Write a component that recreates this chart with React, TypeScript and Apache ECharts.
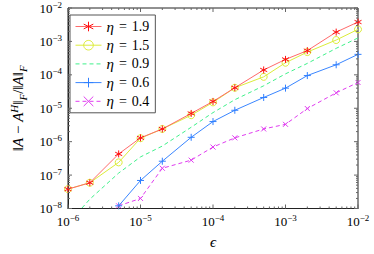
import React, { useEffect, useRef } from "react";
import * as echarts from "echarts";

const epsilon = [1e-6, 2e-6, 5e-6, 1e-5, 2e-5, 5e-5, 1e-4, 2e-4, 5e-4, 1e-3, 2e-3, 5e-3, 1e-2];
const eta19 = [3.8e-8, 5.9e-8, 4.3e-7, 1.3e-6, 2.4e-6, 7.0e-6, 1.6e-5, 4.1e-5, 1.4e-4, 2.9e-4, 5.3e-4, 1.9e-3, 3.8e-3];
const eta15 = [3.8e-8, 5.9e-8, 2.4e-7, 1.27e-6, 2.4e-6, 6.2e-6, 1.5e-5, 4.1e-5, 8.7e-5, 2.3e-4, 4.8e-4, 1.1e-3, 2.3e-3];
const eta09 = [3.5e-9, 1.9e-8, 1.15e-7, 3.5e-7, 7.4e-7, 2.7e-6, 7.4e-6, 1.8e-5, 4.7e-5, 1.07e-4, 2.2e-4, 6.2e-4, 1.27e-3];
const eta06 = [null, null, 1.2e-8, 6.9e-8, 2.6e-7, 1.35e-6, 4.0e-6, 8.7e-6, 2.1e-5, 4.0e-5, 9.5e-5, 2.0e-4, 4.1e-4];
const eta04 = [null, null, 1.2e-8, 2.0e-8, 1.6e-7, 2.8e-7, 6.9e-7, 1.3e-6, 2.4e-6, 3.3e-6, 9.8e-6, 2.9e-5, 5.9e-5];
const etaNames = ["1.9", "1.5", "0.9", "0.6", "0.4"];

const X_MIN = 1e-6, X_MAX = 1e-2, Y_MIN = 1e-8, Y_MAX = 1e-2;
const SERIF = "Liberation Serif";

const STAR = "path://M0,-10L0,10M-8.66,-5L8.66,5M-8.66,5L8.66,-5";
const PLUS = "path://M0,-10L0,10M-10,0L10,0";
const CROSS = "path://M-10,-10L10,10M-10,10L10,-10";

function tickValues(eMin: number, eMax: number) {
  const out: number[][] = [];
  for (let e = eMin; e < eMax; e++) {
    for (let m = 1; m <= 9; m++) out.push([m * Math.pow(10, e), m === 1 ? 4 : 2]);
  }
  out.push([Math.pow(10, eMax), 4]);
  return out;
}

export default function App() {
  const ref = useRef<HTMLDivElement>(null);
  useEffect(() => {
    if (!ref.current) return;
    const chart = echarts.init(ref.current, null, { renderer: "svg" });
    const pair = (ys: (number | null)[]) => epsilon.map((x, i) => [x, ys[i]]).filter((p) => p[1] !== null);
    const tickStyle = { stroke: "#666", lineWidth: 1 };
    const labelFmt = (v: number) => `{b|10}{s|−${-Math.round(Math.log10(v))}}`;
    const labelRich = {
      b: { fontFamily: SERIF, fontSize: 13, lineHeight: 16, color: "#000" },
      s: { fontFamily: SERIF, fontSize: 9, lineHeight: 10, verticalAlign: "top", color: "#000" },
    };
    const xt = tickValues(-6, -2).map((t) => [t[0], Y_MIN, t[1]]);
    const yt = tickValues(-8, -2).map((t) => [X_MIN, t[0], t[1]]);
    const mk = (name: string, data: any, color: string, lineColor: string, symbol: string, size: number, dashed: boolean, z: number) => ({
      type: "line",
      name,
      data,
      z,
      symbol,
      symbolSize: size,
      showAllSymbol: true,
      lineStyle: { color: lineColor, width: 1, type: dashed ? [4, 3] : "solid" },
      itemStyle: { color: symbol === "circle" || !size ? "rgba(0,0,0,0)" : color, borderColor: size ? color : "rgba(0,0,0,0)", borderWidth: 1 },
      emphasis: { disabled: true },
      animation: false,
    });
    chart.setOption({
      animation: false,
      textStyle: { fontFamily: SERIF },
      grid: { left: 61, right: 16, top: 7, bottom: 37, show: true, borderColor: "#222", borderWidth: 1 },
      legend: {
        left: 70,
        top: 15,
        orient: "vertical",
        padding: [4, 6, 4, 5],
        itemGap: 3.7,
        itemWidth: 26,
        itemHeight: 12,
        borderColor: "#555",
        borderWidth: 1,
        backgroundColor: "#fff",
        data: etaNames,
        itemStyle: { borderWidth: 1 },
        lineStyle: { width: 1 },
        formatter: (n: string) => `{i|η}{e|=}{n|${n}}`,
        textStyle: {
          fontFamily: SERIF,
          rich: {
            i: { fontFamily: SERIF, fontSize: 15, fontStyle: "italic", lineHeight: 14, color: "#000" },
            e: { fontFamily: SERIF, fontSize: 14, lineHeight: 14, padding: [0, 5, 0, 5], color: "#000" },
            n: { fontFamily: SERIF, fontSize: 14, lineHeight: 14, color: "#000" },
          },
        },
      },
      xAxis: {
        type: "log",
        logBase: 10,
        min: X_MIN,
        max: X_MAX,
        name: "ϵ",
        nameLocation: "middle",
        nameGap: 26,
        nameTextStyle: { fontFamily: SERIF, fontSize: 15, fontStyle: "italic", color: "#000", lineHeight: 14 },
        axisLine: { lineStyle: { color: "#222", width: 1 } },
        axisTick: { show: false },
        splitLine: { show: false },
        axisLabel: { margin: 5, fontFamily: SERIF, formatter: labelFmt, rich: labelRich },
      },
      yAxis: {
        type: "log",
        logBase: 10,
        min: Y_MIN,
        max: Y_MAX,
        name: "{n|‖}{i|A}{n| − }{i|A}{sup|H}{n|‖}{sub|F}{n|/‖}{i|A}{n|‖}{sub|F}",
        nameLocation: "middle",
        nameRotate: 90,
        nameGap: 40,
        nameTextStyle: {
          fontFamily: SERIF,
          rich: {
            n: { fontFamily: SERIF, fontSize: 15, lineHeight: 20, color: "#000" },
            i: { fontFamily: SERIF, fontSize: 15, fontStyle: "italic", lineHeight: 20, color: "#000" },
            sup: { fontFamily: SERIF, fontSize: 11, fontStyle: "italic", lineHeight: 12, verticalAlign: "top", color: "#000" },
            sub: { fontFamily: SERIF, fontSize: 11, fontStyle: "italic", lineHeight: 12, verticalAlign: "bottom", color: "#000" },
          },
        },
        axisLine: { lineStyle: { color: "#222", width: 1 } },
        axisTick: { show: false },
        splitLine: { show: false },
        axisLabel: { margin: 6, fontFamily: SERIF, formatter: labelFmt, rich: labelRich },
      },
      series: [
        mk("1.9", pair(eta19), "#ff1010", "#ff6a6a", STAR, 7, false, 7),
        mk("1.5", pair(eta15), "#dcec3a", "#dcec3a", "circle", 7, false, 6),
        mk("0.9", pair(eta09), "#3ff08a", "#3ff08a", "circle", 0, true, 5),
        mk("0.6", pair(eta06), "#2f7fff", "#3a86ff", PLUS, 7, false, 4),
        mk("0.4", pair(eta04), "#e03cf0", "#e03cf0", CROSS, 5, true, 3),
        {
          type: "custom",
          silent: true,
          z: 8,
          data: xt,
          encode: { x: 0, y: 1 },
          renderItem: (_p: any, api: any) => {
            const v = api.value(0), len = api.value(2);
            const b = api.coord([v, Y_MIN]);
            const t = api.coord([v, Y_MAX]);
            return {
              type: "group",
              children: [
                { type: "line", shape: { x1: b[0], y1: b[1], x2: b[0], y2: b[1] - len }, style: tickStyle },
                { type: "line", shape: { x1: t[0], y1: t[1], x2: t[0], y2: t[1] + len }, style: tickStyle },
              ],
            };
          },
        },
        {
          type: "custom",
          silent: true,
          z: 8,
          data: yt,
          encode: { x: 0, y: 1 },
          renderItem: (_p: any, api: any) => {
            const v = api.value(1), len = api.value(2);
            const l = api.coord([X_MIN, v]);
            const r = api.coord([X_MAX, v]);
            return {
              type: "group",
              children: [
                { type: "line", shape: { x1: l[0], y1: l[1], x2: l[0] + len, y2: l[1] }, style: tickStyle },
                { type: "line", shape: { x1: r[0], y1: r[1], x2: r[0] - len, y2: r[1] }, style: tickStyle },
              ],
            };
          },
        },
      ],
    });
    return () => chart.dispose();
  }, []);
  return <div ref={ref} style={{ width: 374, height: 254, position: "absolute", left: 0, top: 0 }} />;
}
